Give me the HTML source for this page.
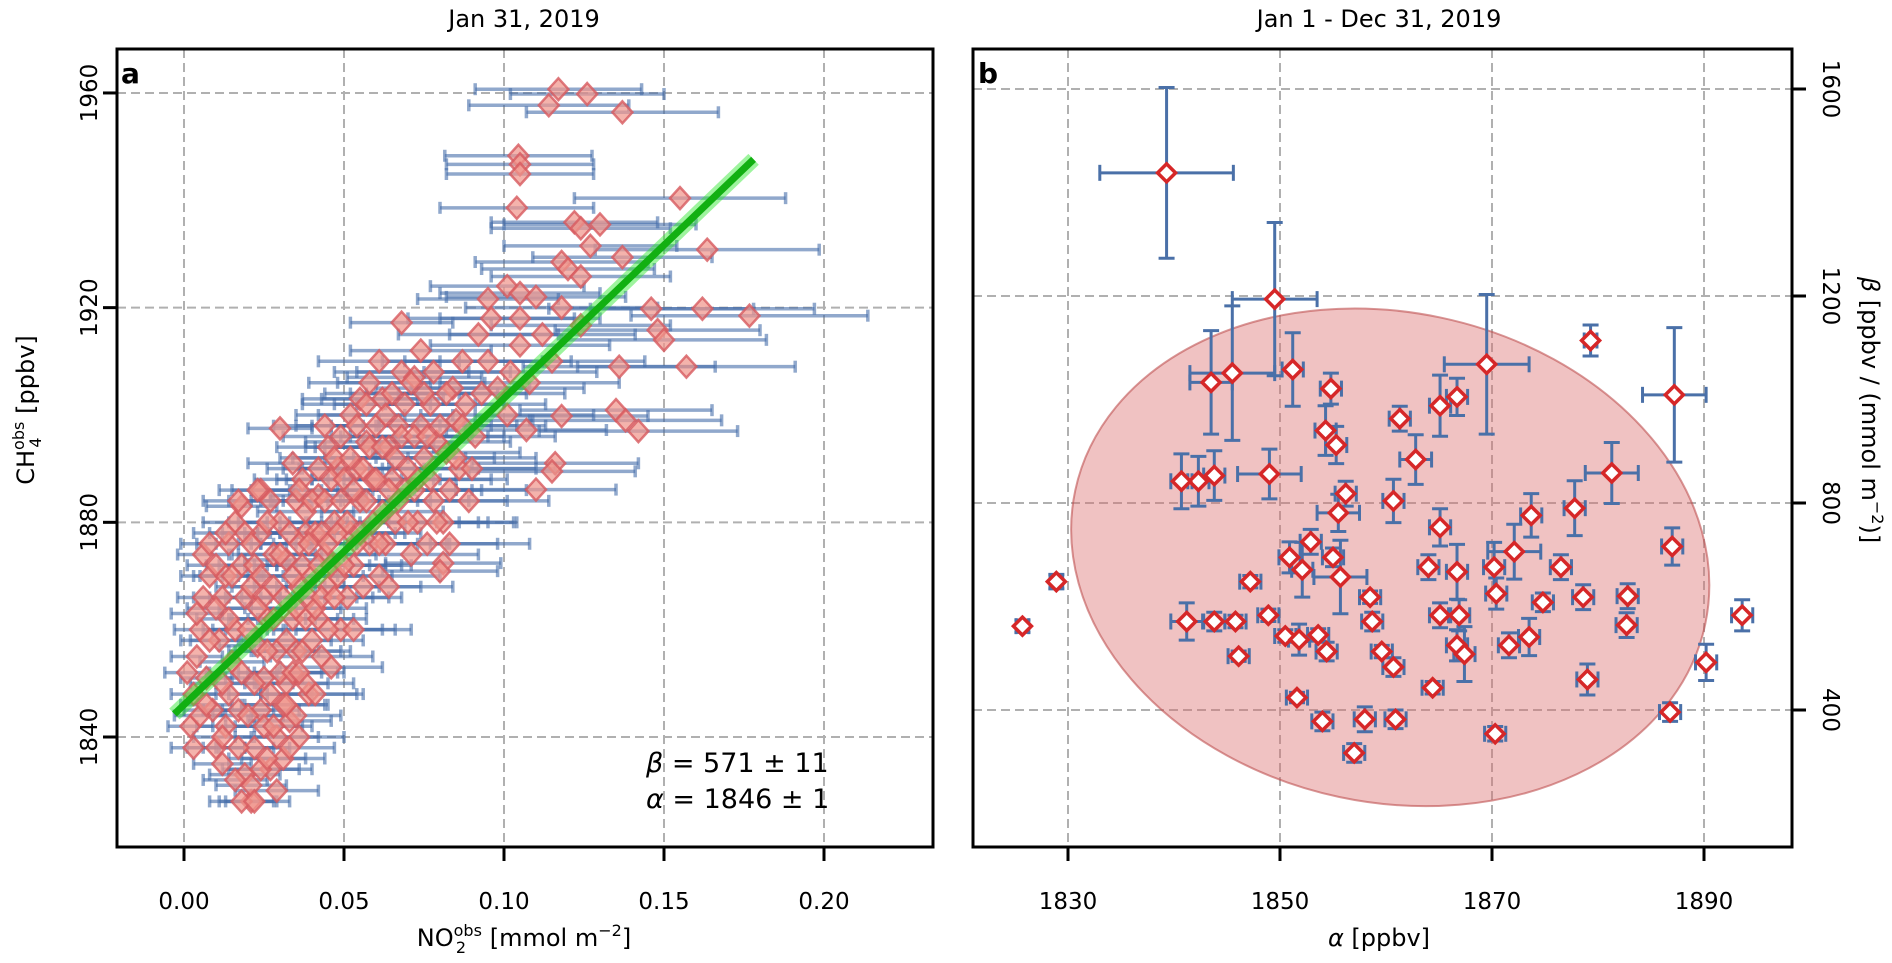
<!DOCTYPE html>
<html><head><meta charset="utf-8">
<style>
html,body{margin:0;padding:0;background:#fff;}
svg{display:block;font-family:"DejaVu Sans","Liberation Sans",sans-serif;}
</style></head>
<body>
<svg id="fig" width="1892" height="963" viewBox="0 0 1892 963" xmlns="http://www.w3.org/2000/svg">
<defs>
<clipPath id="clipA"><rect x="117" y="49" width="816" height="798"/></clipPath>
<clipPath id="clipB"><rect x="973" y="49" width="819" height="798"/></clipPath>
</defs>
<g id="gridA"></g>
<g id="gridB"></g>
<g id="ellipseG" clip-path="url(#clipB)"></g>
<g id="marksA" clip-path="url(#clipA)"></g>
<g id="fitG" clip-path="url(#clipA)"></g>
<g id="marksB" clip-path="url(#clipB)"></g>
<rect x="117" y="49" width="816" height="798" fill="none" stroke="#000" stroke-width="3"/>
<rect x="973" y="49" width="819" height="798" fill="none" stroke="#000" stroke-width="3"/>
<g id="ticksA"></g>
<g id="ticksB"></g>
<text x="524" y="27" font-size="24" text-anchor="middle">Jan 31, 2019</text>
<text x="1379" y="27" font-size="24" text-anchor="middle">Jan 1 - Dec 31, 2019</text>
<text x="121" y="83" font-size="28" font-weight="bold">a</text>
<text x="978" y="83" font-size="28" font-weight="bold">b</text>
<text x="524" y="946" font-size="24" text-anchor="middle">NO<tspan font-size="16" dy="-10">obs</tspan><tspan font-size="16" dx="-26" dy="17">2</tspan><tspan dx="16" dy="-7"> [mmol m</tspan><tspan font-size="16" dy="-10">−2</tspan><tspan dy="10">]</tspan></text>
<text x="1379" y="946" font-size="24" text-anchor="middle"><tspan font-style="italic">α</tspan> [ppbv]</text>
<text transform="translate(34,410) rotate(-90)" font-size="24" text-anchor="middle">CH<tspan font-size="16" dy="-10">obs</tspan><tspan font-size="16" dx="-26" dy="17">4</tspan><tspan dx="16" dy="-7"> [ppbv]</tspan></text>
<text transform="translate(1862,410) rotate(90)" font-size="24" text-anchor="middle"><tspan font-style="italic">β</tspan> [ppbv / (mmol m<tspan font-size="16" dy="-10">−2</tspan><tspan dy="10">)]</tspan></text>
<text x="646" y="772" font-size="27"><tspan font-style="italic">β</tspan> = 571 ± 11</text>
<text x="646" y="808" font-size="27"><tspan font-style="italic">α</tspan> = 1846 ± 1</text>
</svg>
<script>
const NS='http://www.w3.org/2000/svg';
// Panel a data
const xTicksA=[0,0.05,0.10,0.15,0.20];
const xTickLabelsA=['0.00','0.05','0.10','0.15','0.20'];
const yTicksA=[1840,1880,1920,1960];
const fitBeta=571, fitAlpha=1846, fitXRange=[-0.003,0.178];
const no2Obs=[0.117,0.126,0.114,0.137,0.1045,0.105,0.105,0.155,0.104,0.122,0.124,0.130,0.127,0.1635,0.137,0.118,0.120,0.124,0.101,0.105,0.095,0.162,0.1767,0.146,0.105,0.124,0.148,0.150,0.068,0.157,0.136,0.135,0.138,0.142,0.030,0.118,0.107,0.116,0.115,0.110,0.024,0.081,0.080,0.021,
0.002,0.003,0.004,0.005,0.006,0.008,0.007,0.009,0.010,0.001,0.006,0.004,
0.012,0.013,0.014,0.015,0.016,0.012,0.018,0.014,0.016,0.019,0.017,0.011,0.019,0.018,0.013,
0.021,0.022,0.024,0.025,0.023,0.026,0.021,0.028,0.024,0.027,0.029,0.027,0.022,0.029,0.025,0.023,
0.031,0.033,0.032,0.035,0.034,0.036,0.032,0.038,0.035,0.037,0.039,0.036,0.030,0.038,0.034,
0.041,0.043,0.042,0.045,0.044,0.047,0.042,0.048,0.045,0.049,0.046,0.041,0.048,0.044,
0.051,0.053,0.052,0.055,0.054,0.057,0.052,0.058,0.056,0.059,0.053,0.055,0.058,
0.061,0.063,0.062,0.065,0.064,0.067,0.062,0.068,0.066,0.069,0.064,0.061,
0.071,0.073,0.072,0.075,0.074,0.077,0.072,0.078,0.076,0.079,0.074,
0.081,0.083,0.082,0.085,0.084,0.087,0.086,0.089,0.088,
0.091,0.093,0.095,0.092,0.098,0.096,0.102,0.105,0.108,0.112,0.115,0.118,0.110,0.101,
0.008,0.010,0.012,0.014,0.015,0.017,0.018,0.019,0.020,0.020,0.021,0.022,0.023,0.024,0.024,0.025,0.026,0.026,0.027,0.028,
0.028,0.029,0.030,0.030,0.031,0.031,0.032,0.033,0.033,0.034,0.034,0.035,0.035,0.036,0.036,0.037,0.037,0.038,0.038,0.039,
0.039,0.040,0.040,0.040,0.041,0.042,0.042,0.043,0.043,0.044,0.045,0.045,0.046,0.046,0.047,0.047,0.048,0.049,0.049,0.050,
0.050,0.051,0.052,0.053,0.054,0.054,0.055,0.056,0.057,0.057,0.058,0.059,0.060,0.060,0.061,0.062,0.063,0.064,0.065,0.066,
0.067,0.068,0.069,0.070,0.070,0.071,0.072,0.073,0.075,0.076,0.077,0.078,0.079,0.080,0.082,0.083,0.085,0.087,0.090,0.005,
0.007,0.003,0.012,0.016,0.018,0.022,0.026,0.028,0.032,0.036,0.010,0.013,0.017,0.008];
const ch4Obs=[1960.7,1959.8,1957.7,1956.4,1948.3,1946.7,1944.9,1940.4,1938.6,1935.9,1934.8,1935.5,1931.5,1930.8,1929.4,1928.5,1927.2,1925.8,1924,1922.7,1921.6,1919.8,1918.5,1919.8,1918,1916.7,1915.8,1914,1917.2,1909,1909,1900.9,1899,1897,1897.5,1899.8,1897.2,1891,1889.5,1886.1,1886,1872.4,1870.9,1828,
1842,1848,1855,1860,1866,1870,1851,1845,1838,1852,1874,1863,
1835,1842,1848,1854,1860,1866,1872,1876,1880,1833,1845,1858,1866,1883,1870,
1831,1838,1845,1851,1857,1862,1868,1874,1878,1884,1840,1834,1872,1856,1866,1886,
1836,1843,1850,1856,1862,1868,1873,1878,1884,1888,1848,1840,1880,1862,1891,
1848,1855,1862,1868,1874,1880,1885,1890,1894,1860,1853,1878,1870,1898,
1866,1872,1878,1884,1890,1895,1900,1876,1868,1888,1860,1903,1906,
1870,1876,1882,1888,1894,1898,1903,1908,1880,1886,1868,1910,
1874,1880,1886,1892,1898,1902,1907,1884,1876,1895,1912,
1880,1886,1893,1899,1905,1910,1890,1884,1902,
1896,1904,1910,1915,1905,1918,1908,1913,1906,1915,1910,1920,1922,1900,
1858,1864,1850,1862,1870,1838,1852,1878,1844,1860,1876,1850,1864,1834,1870,1842,1856,1880,1848,1862,
1868,1830,1852,1874,1846,1866,1858,1838,1878,1852,1870,1844,1864,1876,1886,1856,1872,1850,1882,1866,
1876,1858,1884,1870,1864,1890,1872,1878,1866,1884,1876,1860,1888,1872,1866,1892,1878,1884,1896,1872,
1888,1880,1892,1886,1876,1898,1878,1890,1884,1902,1894,1880,1898,1888,1876,1894,1900,1886,1904,1892,
1884,1896,1902,1890,1880,1906,1896,1888,1904,1896,1888,1908,1880,1898,1904,1876,1892,1898,1890,1844,
1846,1838,1840,1832,1828,1828,1836,1842,1846,1852,1872,1878,1884,1876];
const no2Err=[0.026,0.024,0.025,0.030,0.023,0.023,0.023,0.033,0.024,0.026,0.028,0.030,0.027,0.035,0.028,0.027,0.027,0.028,0.024,0.025,0.022,0.035,0.037,0.032,0.025,0.028,0.032,0.032,0.016,0.034,0.030,0.030,0.030,0.031,0.010,0.027,0.025,0.026,0.026,0.025,0.009,0.018,0.018,0.008,
0.007,0.007,0.008,0.008,0.008,0.009,0.008,0.009,0.009,0.007,0.008,0.008,
0.009,0.009,0.010,0.010,0.010,0.009,0.011,0.010,0.010,0.011,0.011,0.009,0.011,0.011,0.010,
0.011,0.011,0.012,0.012,0.012,0.012,0.011,0.013,0.012,0.013,0.013,0.013,0.011,0.013,0.012,0.012,
0.013,0.013,0.013,0.014,0.014,0.014,0.013,0.015,0.014,0.015,0.015,0.014,0.013,0.015,0.014,
0.015,0.016,0.015,0.016,0.016,0.017,0.015,0.017,0.016,0.017,0.016,0.015,0.017,0.016,
0.017,0.018,0.017,0.018,0.018,0.019,0.017,0.019,0.018,0.019,0.018,0.018,0.019,
0.019,0.020,0.019,0.020,0.020,0.021,0.019,0.021,0.020,0.021,0.020,0.019,
0.021,0.022,0.021,0.022,0.022,0.023,0.021,0.023,0.022,0.023,0.022,
0.023,0.024,0.023,0.024,0.024,0.025,0.024,0.025,0.025,
0.025,0.026,0.026,0.025,0.027,0.026,0.027,0.028,0.028,0.029,0.029,0.030,0.028,0.027,
0.009,0.009,0.010,0.010,0.010,0.011,0.011,0.011,0.011,0.011,0.011,0.012,0.012,0.012,0.012,0.012,0.012,0.012,0.013,0.013,
0.013,0.013,0.013,0.013,0.013,0.013,0.014,0.014,0.014,0.014,0.014,0.014,0.014,0.015,0.015,0.015,0.015,0.015,0.015,0.015,
0.015,0.016,0.016,0.016,0.016,0.016,0.016,0.016,0.016,0.017,0.017,0.017,0.017,0.017,0.017,0.017,0.018,0.018,0.018,0.018,
0.018,0.018,0.018,0.019,0.019,0.019,0.019,0.019,0.020,0.020,0.020,0.020,0.020,0.020,0.021,0.021,0.021,0.021,0.021,0.022,
0.022,0.022,0.022,0.022,0.022,0.023,0.023,0.023,0.023,0.024,0.024,0.024,0.024,0.024,0.025,0.025,0.025,0.026,0.026,0.008,
0.008,0.007,0.009,0.010,0.010,0.011,0.012,0.012,0.013,0.014,0.009,0.010,0.011,0.009];
// Panel b data
const xTicksB=[1830,1850,1870,1890];
const yTicksB=[400,800,1200,1600];
const alphaVals=[1839.3,1849.5,1825.7,1828.9,1879.3,1887.2,1893.6,1890.2,1886.8,1881.3,1877.8,1887.0,1873.7,1869.5,1866.7,1865.1,1861.3,1862.8,1860.7,1865.1,1872.1,1870.2,1870.4,1866.7,1864.0,1876.5,1874.8,1878.6,1882.8,1882.7,1865.1,1866.9,1866.7,1867.4,1871.6,1873.5,1864.4,1870.3,1879.0,1854.8,1851.2,1845.5,1843.5,1854.3,1855.3,1856.2,1855.5,1849.0,1843.8,1842.3,1840.7,1852.9,1850.9,1852.1,1855.0,1855.7,1847.2,1858.5,1858.7,1841.2,1843.8,1845.8,1848.9,1850.5,1851.8,1853.6,1854.4,1859.6,1860.7,1846.1,1851.6,1854.0,1858.0,1860.9,1857.0];
const betaVals=[1438,1194,562,648,1114,1009,583,492,396,858,790,716,776,1068,1005,988,963,884,804,753,706,676,625,667,676,676,608,618,620,564,583,583,525,508,525,541,443,354,459,1021,1058,1051,1033,940,912,818,781,856,853,842,842,725,695,671,695,657,648,618,571,571,571,571,583,543,536,545,513,513,483,504,424,378,382,382,317];
const alphaErr=[6.3,4.0,0.6,0.6,0.6,3.0,1.0,1.0,1.0,2.5,1.0,1.0,1.0,4.0,1.0,1.0,1.0,1.5,1.0,1.0,2.5,1.0,1.0,1.0,1.0,1.0,1.0,1.0,1.0,1.0,1.0,1.0,1.0,1.0,1.0,1.0,1.0,1.0,1.0,1.0,1.0,4.0,2.0,1.0,1.0,1.0,2.0,3.0,1.0,1.0,1.0,1.0,1.0,1.0,1.0,2.5,1.0,1.0,1.0,1.5,1.0,1.0,1.0,1.0,1.0,1.0,1.0,1.0,1.0,1.0,1.0,1.0,1.0,1.0,1.0];
const betaErr=[165,148,12,14,30,130,30,35,18,59,53,36,42,135,36,59,24,48,42,36,53,48,30,53,24,24,18,24,24,24,24,30,30,53,24,36,12,14,30,30,71,130,100,48,36,24,36,48,48,48,53,24,30,53,18,71,12,12,18,36,18,12,12,12,30,12,18,12,18,10,10,18,24,18,18];
const ellipseCenter=[1860.4,695];
const ellipseRadii=[322,245]; // pixels
const ellipseAngle=12;

// axis functions
const xA=v=>184+3200*v, yA=v=>737-5.367*(v-1840);
const xB=v=>1068+10.6*(v-1830), yB=v=>710-0.5175*(v-400);

function mk(tag,attrs,parent){const e=document.createElementNS(NS,tag);for(const k in attrs)e.setAttribute(k,attrs[k]);parent.appendChild(e);return e;}

const gA=document.getElementById('gridA'), gB=document.getElementById('gridB');
const tA=document.getElementById('ticksA'), tB=document.getElementById('ticksB');
const gridStyle={stroke:'#b0b0b0','stroke-width':2,'stroke-dasharray':'9,5'};
xTicksA.forEach((v,i)=>{
  const g=mk('line',Object.assign({x1:xA(v),x2:xA(v),y1:49,y2:847},gridStyle),gA);
  
  
  const t=mk('line',{x1:xA(v),x2:xA(v),y1:847,y2:861,stroke:'#000','stroke-width':3},tA);
  
  
  const l=mk('text',{x:xA(v),y:909,'font-size':23,'text-anchor':'middle'},tA);
  
  
  l.textContent=xTickLabelsA[i];
});
yTicksA.forEach(v=>{
  const g=mk('line',Object.assign({x1:117,x2:933,y1:yA(v),y2:yA(v)},gridStyle),gA);
  
  
  const t=mk('line',{x1:103,x2:117,y1:yA(v),y2:yA(v),stroke:'#000','stroke-width':3},tA);
  
  
  const l=mk('text',{transform:`translate(97,${yA(v)}) rotate(-90)`,'font-size':23,'text-anchor':'middle'},tA);
  
  
  l.textContent=String(v);
});
xTicksB.forEach(v=>{
  const g=mk('line',Object.assign({x1:xB(v),x2:xB(v),y1:49,y2:847},gridStyle),gB);
  
  
  const t=mk('line',{x1:xB(v),x2:xB(v),y1:847,y2:861,stroke:'#000','stroke-width':3},tB);
  
  
  const l=mk('text',{x:xB(v),y:909,'font-size':23,'text-anchor':'middle'},tB);
  
  
  l.textContent=String(v);
});
yTicksB.forEach(v=>{
  const g=mk('line',Object.assign({x1:973,x2:1792,y1:yB(v),y2:yB(v)},gridStyle),gB);
  
  
  const t=mk('line',{x1:1792,x2:1806,y1:yB(v),y2:yB(v),stroke:'#000','stroke-width':3},tB);
  
  
  const l=mk('text',{transform:`translate(1823,${yB(v)}) rotate(90)`,'font-size':23,'text-anchor':'middle'},tB);
  
  
  l.textContent=String(v);
});

// panel a
const mA=document.getElementById('marksA');
const errA=mk('g',{stroke:'rgba(70,110,170,0.6)','stroke-width':3.5},mA);


no2Obs.forEach((v,i)=>{
  const x1=xA(v-no2Err[i]),x2=xA(v+no2Err[i]),y=yA(ch4Obs[i]);
  mk('line',{x1,x2,y1:y,y2:y},errA);
  mk('line',{x1,x2:x1,y1:y-6,y2:y+6},errA);
  mk('line',{x1:x2,x2,y1:y-6,y2:y+6},errA);
});
no2Obs.forEach((v,i)=>{
  const x=xA(v),y=yA(ch4Obs[i]);
  const p=mk('polygon',{points:`${x},${y-11} ${x+10},${y} ${x},${y+11} ${x-10},${y}`,fill:'rgba(240,150,140,0.72)',stroke:'rgba(215,90,95,0.8)','stroke-width':2.5},mA);
  
  
});
const fG=document.getElementById('fitG');
const fx1=xA(fitXRange[0]),fy1=yA(fitAlpha+fitBeta*fitXRange[0]),fx2=xA(fitXRange[1]),fy2=yA(fitAlpha+fitBeta*fitXRange[1]);
const fl1=mk('line',{x1:fx1,y1:fy1,x2:fx2,y2:fy2,stroke:'rgba(40,230,40,0.45)','stroke-width':15},fG);


const fl2=mk('line',{x1:fx1,y1:fy1,x2:fx2,y2:fy2,stroke:'#12b012','stroke-width':7},fG);



// ellipse
const eG=document.getElementById('ellipseG');
const ecx=xB(ellipseCenter[0]),ecy=yB(ellipseCenter[1]);
const el=mk('ellipse',{cx:ecx,cy:ecy,rx:ellipseRadii[0],ry:ellipseRadii[1],transform:`rotate(${ellipseAngle} ${ecx} ${ecy})`,fill:'rgba(220,110,110,0.42)',stroke:'rgba(190,80,80,0.6)','stroke-width':2},eG);



// panel b
const mB=document.getElementById('marksB');
const errB=mk('g',{stroke:'#4a70a8','stroke-width':3},mB);


alphaVals.forEach((v,i)=>{
  const x=xB(v),y=yB(betaVals[i]);
  const x1=xB(v-alphaErr[i]),x2=xB(v+alphaErr[i]);
  const y1=yB(betaVals[i]+betaErr[i]),y2=yB(betaVals[i]-betaErr[i]);
  mk('line',{x1,x2,y1:y,y2:y},errB);
  mk('line',{x1,x2:x1,y1:y-8,y2:y+8},errB);
  mk('line',{x1:x2,x2,y1:y-8,y2:y+8},errB);
  mk('line',{x1:x,x2:x,y1,y2},errB);
  mk('line',{x1:x-8,x2:x+8,y1,y2:y1},errB);
  mk('line',{x1:x-8,x2:x+8,y1:y2,y2},errB);
});
alphaVals.forEach((v,i)=>{
  const x=xB(v),y=yB(betaVals[i]);
  const p=mk('polygon',{points:`${x},${y-9} ${x+9},${y} ${x},${y+9} ${x-9},${y}`,fill:'#fff',stroke:'#d62728','stroke-width':3.5},mB);
  
  
});
</script>
</body></html>
